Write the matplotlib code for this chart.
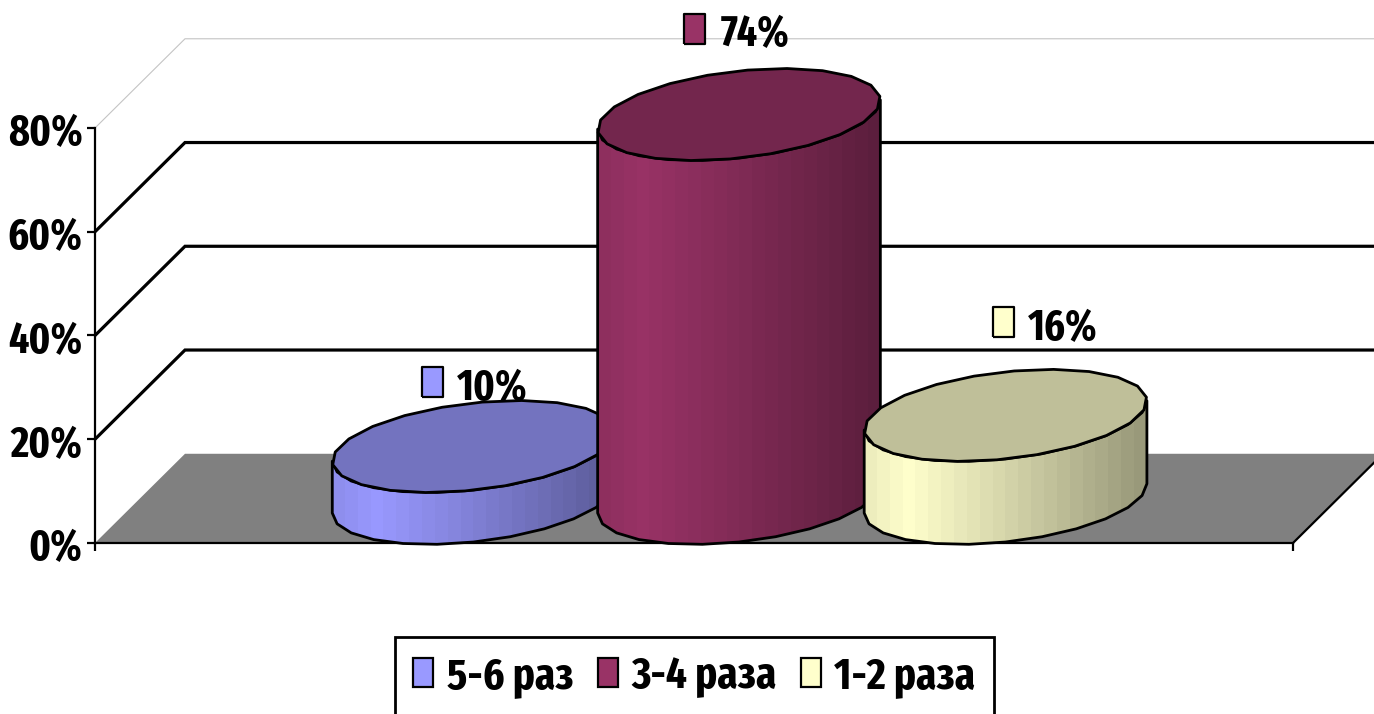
import numpy as np
import matplotlib
matplotlib.use("Agg")
import matplotlib.pyplot as plt
from matplotlib.patches import Polygon, Patch
from matplotlib.ticker import PercentFormatter
from matplotlib.transforms import offset_copy, ScaledTranslation
from matplotlib.colors import to_rgb
from matplotlib import font_manager as fm

series_names = ["5-6 раз", "3-4 раза", "1-2 раза"]
series_values = [10, 74, 16]
series_colors = ["#9999ff", "#993366", "#ffffcc"]
y_ticks = [0, 20, 40, 60, 80]

# style
W, H = 1374, 714
names = {f.name for f in fm.fontManager.ttflist}
FONT = [n for n in ("Fira Sans Extra Condensed", "Roboto Condensed", "Fira Sans Condensed",
                    "Liberation Sans Narrow", "Liberation Sans") if n in names]
plt.rcParams["font.family"] = FONT
plt.rcParams["font.weight"] = "bold"
LEFT, RIGHT, BOTTOM, TOP = 95, 1293, 543, 128
DEPTH_X = 90 / (RIGHT - LEFT)
DEPTH_Y = 17.2
GROUP_OFFSETS = [-0.2215, 0.0, 0.2225]
HALF_W = 134 / (RIGHT - LEFT)
HALF_DY = 8.87
FLOOR = "#808080"
TICK_FS = 31
LABEL_FS = 31
LEGEND_FS = 32

fig = plt.figure(figsize=(W / 100, H / 100), dpi=100, facecolor="white")
ax = fig.add_axes([LEFT / W, 1 - BOTTOM / H, (RIGHT - LEFT) / W, (BOTTOM - TOP) / H])
ax.set_xlim(0, 1)
ax.set_ylim(0, 80)
ax.patch.set_visible(False)
for s in ("top", "right"):
    ax.spines[s].set_visible(False)
for s in ("left", "bottom"):
    ax.spines[s].set_linewidth(1.6)
    ax.spines[s].set_zorder(1.5)
ax.set_xticks([0, 1])
ax.set_xticklabels([])
ax.set_yticks(y_ticks)
ax.yaxis.set_major_formatter(PercentFormatter(decimals=0))
ax.tick_params(axis="both", length=6, width=1.6)
ax.tick_params(axis="y", labelsize=TICK_FS, pad=3)
shift = ScaledTranslation(0, -6 / 100, fig.dpi_scale_trans)
for lab in ax.get_yticklabels():
    lab.set_fontweight("bold")
    lab.set_verticalalignment("center")
    lab.set_transform(lab.get_transform() + shift)

# floor
ax.add_patch(Polygon([(0, 0), (DEPTH_X, DEPTH_Y), (1 + DEPTH_X, DEPTH_Y), (1, 0)],
                     closed=True, fc=FLOOR, ec="none", clip_on=False, zorder=1))
# walls
for v in y_ticks[1:]:
    top = v == y_ticks[-1]
    col, lw = ("#c4c4c4", 0.8) if top else ("black", 2.3)
    ax.plot([0, DEPTH_X, 1 + DEPTH_X], [v, v + DEPTH_Y, v + DEPTH_Y], color=col, lw=lw,
            clip_on=False, zorder=1, solid_capstyle="butt", solid_joinstyle="miter")
ax.plot([1, 1 + DEPTH_X], [0, DEPTH_Y], color="black", lw=1.6, clip_on=False, zorder=1.2)


def ring(cx, cy, t):
    return np.column_stack([cx + HALF_W * np.cos(t) + DEPTH_X / 2 * np.sin(t),
                            cy + HALF_DY * np.sin(t)])


def shade(frac):
    knots = [0.0, 0.14, 0.45, 1.0]
    vals = [0.93, 1.0, 0.86, 0.60]
    return np.interp(frac, knots, vals)


t0 = np.arctan2(DEPTH_X / 2, HALF_W)
NSEG = 22
full_t = np.linspace(0, 2 * np.pi, NSEG, endpoint=False) + 0.12
front_t = np.linspace(t0 + np.pi, t0 + 2 * np.pi, 13)
bands = np.linspace(0, 1, 22)

for i, (val, col) in enumerate(zip(series_values, series_colors)):
    z = 3 + 2 * i
    cx = 0.5 + GROUP_OFFSETS[i] + DEPTH_X / 2
    y0 = DEPTH_Y / 2
    y1 = y0 + val
    base = np.array(to_rgb(col))
    bot = ring(cx, y0, front_t)
    topf = ring(cx, y1, front_t)
    side_xy = np.vstack([bot, topf[::-1]])
    img = (base[None, None, :] * shade(bands)[None, :, None]).clip(0, 1)
    im = ax.imshow(img, extent=[side_xy[:, 0].min(), side_xy[:, 0].max(),
                                side_xy[:, 1].min(), side_xy[:, 1].max()],
                   aspect="auto", interpolation="nearest", zorder=z, origin="lower")
    im.set_clip_box(fig.bbox)
    im.set_clip_path(Polygon(side_xy, closed=True, transform=ax.transData))
    ax.add_patch(Polygon(side_xy, closed=True, fc="none", ec="black", lw=2.0, clip_on=False,
                         zorder=z + 0.2, joinstyle="round"))
    ax.add_patch(Polygon(ring(cx, y1, full_t), closed=True, fc=tuple(base * 0.75), ec="black",
                         lw=2.0, clip_on=False, zorder=z + 0.4, joinstyle="round"))

ax.set_xlim(0, 1)
ax.set_ylim(0, 80)

# value labels: pixel offset of key and text from the top of each cylinder
KEY_OFF = [(-42, 65), (-45, 86), (-3, 93)]
TXT_OFF = [(-17, 58), (-18, 80), (22, 87)]
KEY_SHAPE = [(-0.72, -1), (0.72, -1), (0.72, 1), (-0.72, 1), (-0.72, -1)]
for i, (val, col) in enumerate(zip(series_values, series_colors)):
    cx = 0.5 + GROUP_OFFSETS[i] + DEPTH_X / 2
    yy = DEPTH_Y / 2 + val
    z = 2.5 if i == 0 else 9
    kt = offset_copy(ax.transData, fig=fig, x=KEY_OFF[i][0], y=KEY_OFF[i][1], units="dots")
    ax.plot([cx], [yy], marker=KEY_SHAPE, ms=21, mfc=col, mec="black", mew=1.6, transform=kt,
            clip_on=False, zorder=z, ls="none")
    tt = offset_copy(ax.transData, fig=fig, x=TXT_OFF[i][0], y=TXT_OFF[i][1], units="dots")
    ax.text(cx, yy, f"{val}%", transform=tt, fontsize=LABEL_FS, fontweight="bold", ha="left",
            va="center", zorder=z, clip_on=False)

handles = [Patch(fc=c, ec="black", lw=1.6) for c in series_colors]
leg = fig.legend(handles, series_names, loc="center", bbox_to_anchor=(694.5 / W, 1 - 677 / H),
                 ncol=3, frameon=True, fancybox=False, edgecolor="black", framealpha=1,
                 fontsize=LEGEND_FS, handlelength=0.45, handleheight=0.62, handletextpad=0.3,
                 columnspacing=0.55, borderpad=0.42, borderaxespad=0)
leg.get_frame().set_linewidth(2)
for t in leg.get_texts():
    t.set_fontweight("bold")

fig.savefig("out.png", dpi=100, facecolor="white")
